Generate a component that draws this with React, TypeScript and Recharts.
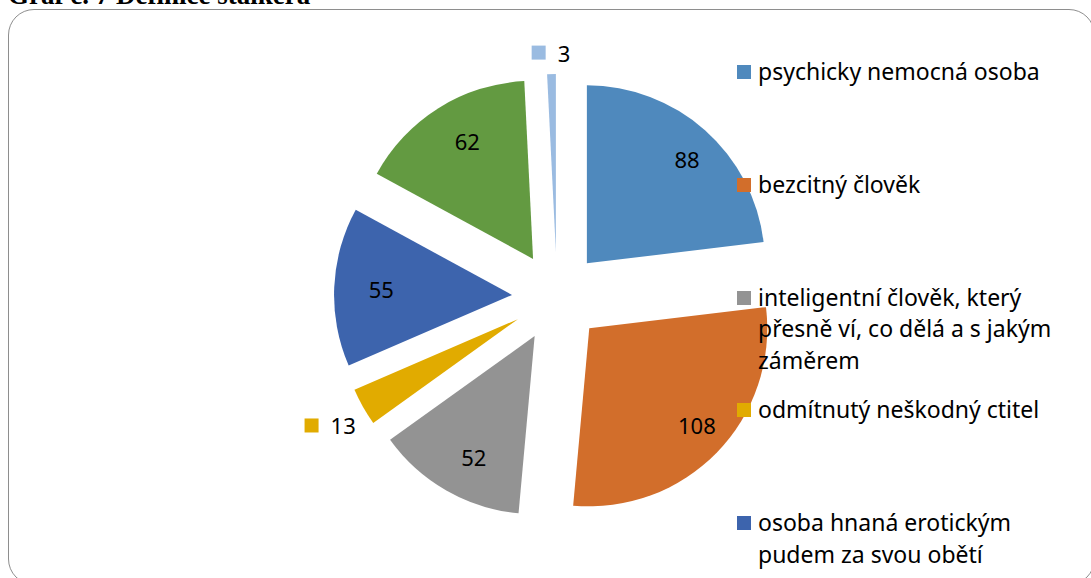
import { PieChart, Pie, Sector, Legend } from "recharts";

// Graf č. 7 Definice stalkera
const categories = [
  "psychicky nemocná osoba",
  "bezcitný člověk",
  "inteligentní člověk, který přesně ví, co dělá a s jakým záměrem",
  "odmítnutý neškodný ctitel",
  "osoba hnaná erotickým pudem za svou obětí",
  "položka 6",
  "položka 7",
];
const values = [88, 108, 52, 13, 55, 62, 3];
const colors = ["#4F89BD", "#D26E2B", "#939393", "#E1AB00", "#3D64AD", "#639A41", "#9ABBE1"];

const data = categories.map((name, i) => ({ name, value: values[i] }));

const FONT = "'Noto Sans', sans-serif";
const RAD = Math.PI / 180;
const EXPLODE = 45;

function ExplodedSlice(props: any) {
  const { cx, cy, outerRadius, startAngle, endAngle, midAngle, percent, value, index } = props;
  const ux = Math.cos(-midAngle * RAD);
  const uy = Math.sin(-midAngle * RAD);
  const ox = cx + ux * EXPLODE;
  const oy = cy + uy * EXPLODE;
  const color = colors[index];

  let label;
  if (percent < 0.05) {
    // small slices: label outside with a legend key
    const text = String(value);
    const w = 14 + 12 + text.length * 12.6;
    const h = 22;
    const px = ox + ux * (outerRadius + 10);
    const py = oy + uy * (outerRadius + 10);
    const off = (Math.abs(ux) * w) / 2 + (Math.abs(uy) * h) / 2;
    const bx = px + ux * off - w / 2;
    const by = py + uy * off;
    label = (
      <g>
        <rect x={bx} y={by - 7} width={14} height={14} fill={color} />
        <text x={bx + 26} y={by} dominantBaseline="central" fontSize={22} fontFamily={FONT} fill="#000">
          {text}
        </text>
      </g>
    );
  } else {
    const r = outerRadius * 0.78;
    label = (
      <text
        x={ox + ux * r + 8}
        y={oy + uy * r}
        textAnchor="middle"
        dominantBaseline="central"
        fontSize={22}
        fontFamily={FONT}
        fill="#000"
      >
        {value}
      </text>
    );
  }

  return (
    <g>
      <Sector
        cx={ox}
        cy={oy}
        innerRadius={0}
        outerRadius={outerRadius}
        startAngle={startAngle}
        endAngle={endAngle}
        fill={color}
        stroke="none"
      />
      {label}
    </g>
  );
}

// legend runs out of room after five entries, like the original
function LegendBox() {
  return (
    <div style={{ position: "relative", width: 350, height: 578 }}>
      {categories.map((name, i) => {
        const mid = 72 + i * 112.75;
        if (mid > 560) return null;
        return (
          <div key={i} style={{ position: "absolute", left: 0, top: mid - 15.85, display: "flex" }}>
            <div style={{ width: 14, height: 14, background: colors[i], marginTop: 9, flex: "none" }} />
            <div
              style={{
                marginLeft: 7,
                width: 300,
                fontSize: 23,
                lineHeight: "31.7px",
                fontFamily: FONT,
                color: "#000",
              }}
            >
              {name}
            </div>
          </div>
        );
      })}
    </div>
  );
}

export default function App() {
  return (
    <div style={{ position: "fixed", left: 0, top: 0, width: 1091, height: 578, overflow: "hidden", background: "#fff" }}>
      <div
        style={{
          position: "absolute",
          left: 8,
          top: -18,
          fontFamily: "'Liberation Serif', serif",
          fontWeight: 700,
          fontSize: 27,
          lineHeight: "26px",
          whiteSpace: "nowrap",
          color: "#000",
        }}
      >
        Graf č. 7 Definice stalkera
      </div>
      <div
        style={{
          position: "absolute",
          left: 8,
          top: 9,
          width: 1085,
          height: 574,
          border: "1px solid #8e8e8e",
          borderRadius: 26,
        }}
      />
      <div style={{ position: "absolute", left: 0, top: 0 }}>
        <PieChart width={1091} height={578} margin={{ top: 0, right: 0, bottom: 0, left: 0 }}>
          <Pie
            data={data}
            dataKey="value"
            nameKey="name"
            cx={557}
            cy={297}
            innerRadius={0}
            outerRadius={178}
            startAngle={90}
            endAngle={-270}
            fill="transparent"
            stroke="none"
            label={ExplodedSlice}
            labelLine={false}
            isAnimationActive={false}
          />
          <Legend
            layout="vertical"
            align="right"
            verticalAlign="top"
            content={LegendBox}
            wrapperStyle={{ position: "absolute", left: 737, top: 0, right: "auto", width: 350, height: 578 }}
          />
        </PieChart>
      </div>
    </div>
  );
}
